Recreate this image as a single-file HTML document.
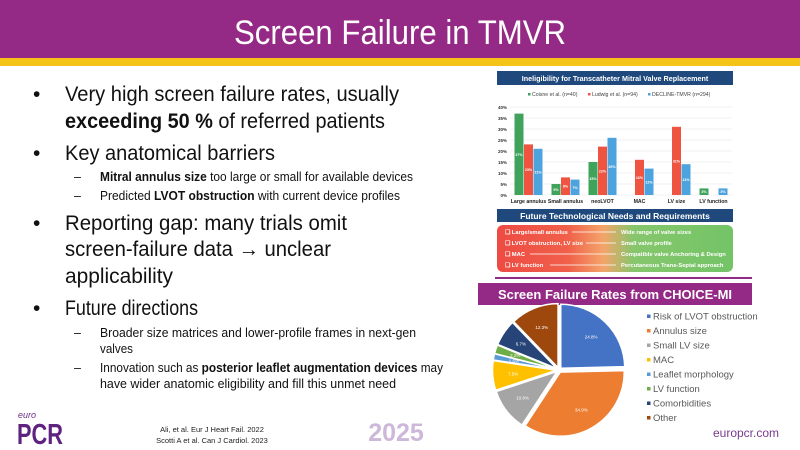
<!DOCTYPE html>
<html><head><meta charset="utf-8">
<style>
html,body{margin:0;padding:0;background:#fff;}
svg{display:block;font-family:"Liberation Sans",sans-serif;}
</style></head>
<body>
<svg id="slide" width="800" height="450" viewBox="0 0 800 450">
  <defs>
    <linearGradient id="fg" x1="0" x2="1" y1="0" y2="0">
      <stop offset="0" stop-color="#EE4B43"/>
      <stop offset="0.3" stop-color="#F0604A"/>
      <stop offset="0.45" stop-color="#F4A46A"/>
      <stop offset="0.58" stop-color="#86C66C"/>
      <stop offset="1" stop-color="#74C467"/>
    </linearGradient>
  </defs>
  <!-- header -->
  <rect x="0" y="0" width="800" height="58" fill="#952A86"/>
  <rect x="0" y="58" width="800" height="8" fill="#F6C418"/>
  <text x="400" y="44" text-anchor="middle" fill="#fff" font-size="34" textLength="332" lengthAdjust="spacingAndGlyphs">Screen Failure in TMVR</text>

  <!-- left bullets -->
  <g fill="#111">
    <g font-size="21">
      <text x="33" y="101">•</text>
      <text x="65" y="101" textLength="334" lengthAdjust="spacingAndGlyphs">Very high screen failure rates, usually</text>
      <text x="65" y="128" textLength="320" lengthAdjust="spacingAndGlyphs"><tspan font-weight="bold">exceeding 50 %</tspan> of referred patients</text>
      <text x="33" y="160">•</text>
      <text x="65" y="160" textLength="210" lengthAdjust="spacingAndGlyphs">Key anatomical barriers</text>
      <text x="33" y="230">•</text>
      <text x="65" y="230" textLength="282" lengthAdjust="spacingAndGlyphs">Reporting gap: many trials omit</text>
      <text x="65" y="256" textLength="266" lengthAdjust="spacingAndGlyphs">screen-failure data → unclear</text>
      <text x="65" y="283" textLength="108" lengthAdjust="spacingAndGlyphs">applicability</text>
      <text x="33" y="315">•</text>
      <text x="65" y="315" textLength="133" lengthAdjust="spacingAndGlyphs">Future directions</text>
    </g>
    <g font-size="12.5">
      <text x="74" y="181">–</text>
      <text x="100" y="181" textLength="313" lengthAdjust="spacingAndGlyphs"><tspan font-weight="bold">Mitral annulus size</tspan> too large or small for available devices</text>
      <text x="74" y="200">–</text>
      <text x="100" y="200" textLength="300" lengthAdjust="spacingAndGlyphs">Predicted <tspan font-weight="bold">LVOT obstruction</tspan> with current device profiles</text>
      <text x="74" y="337">–</text>
      <text x="100" y="337" textLength="316" lengthAdjust="spacingAndGlyphs">Broader size matrices and lower-profile frames in next-gen</text>
      <text x="100" y="353" textLength="33" lengthAdjust="spacingAndGlyphs">valves</text>
      <text x="74" y="372">–</text>
      <text x="100" y="372" textLength="343" lengthAdjust="spacingAndGlyphs">Innovation such as <tspan font-weight="bold">posterior leaflet augmentation devices</tspan> may</text>
      <text x="100" y="388" textLength="296" lengthAdjust="spacingAndGlyphs">have wider anatomic eligibility and fill this unmet need</text>
    </g>
  </g>

  <!-- footer -->
  <text x="18" y="418" font-size="9" font-style="italic" fill="#6B2F86">euro</text>
  <text x="17" y="444" font-size="29" font-weight="bold" fill="#5E2380" textLength="46" lengthAdjust="spacingAndGlyphs">PCR</text>
  <text x="212" y="432" text-anchor="middle" font-size="7.5" fill="#222">Ali, et al. Eur J Heart Fail. 2022</text>
  <text x="212" y="443" text-anchor="middle" font-size="7.5" fill="#222">Scotti A et al. Can J Cardiol. 2023</text>
  <text x="396" y="441" text-anchor="middle" font-size="25" font-weight="bold" fill="#CDB8DA">2025</text>
  <text x="746" y="437" text-anchor="middle" font-size="12" fill="#7A3B8C">europcr.com</text>

  <!-- bar chart panel -->
  <g>
    <rect x="497" y="71" width="236" height="14" fill="#1F497D"/>
    <text x="615" y="81" text-anchor="middle" font-size="7.2" font-weight="bold" fill="#fff">Ineligibility for Transcatheter Mitral Valve Replacement</text>
    <g id="barLegend"></g>
    <g id="bars"></g>
  </g>
  <rect x="497" y="209" width="236" height="13" fill="#1F497D"/>
  <text x="615" y="219" text-anchor="middle" font-size="8.5" font-weight="bold" fill="#fff">Future Technological Needs and Requirements</text>
  <rect x="497" y="225" width="236" height="47" rx="6" fill="url(#fg)"/>
  <g font-size="5.8" font-weight="bold" fill="#fff">
    <text x="505" y="234">❑ Large/small annulus</text><line x1="572" y1="232" x2="616" y2="232" stroke="#fff" stroke-width="0.7"/><text x="621" y="234">Wide range of valve sizes</text>
    <text x="505" y="245">❑ LVOT obstruction, LV size</text><line x1="586" y1="243" x2="616" y2="243" stroke="#fff" stroke-width="0.7"/><text x="621" y="245">Small valve profile</text>
    <text x="505" y="256">❑ MAC</text><line x1="530" y1="254" x2="616" y2="254" stroke="#fff" stroke-width="0.7"/><text x="621" y="256">Compatible valve Anchoring &amp; Design</text>
    <text x="505" y="267">❑ LV function</text><line x1="550" y1="265" x2="616" y2="265" stroke="#fff" stroke-width="0.7"/><text x="621" y="267">Percutaneous Trans-Septal approach</text>
  </g>
  <rect x="495" y="277" width="257" height="2" fill="#952A86"/>

  <!-- pie chart panel -->
  <rect x="478" y="283" width="274" height="22" fill="#952A86"/>
  <text x="615" y="299" text-anchor="middle" font-size="13" font-weight="bold" fill="#fff">Screen Failure Rates from CHOICE-MI</text>
  <g id="pie"></g>
  <g id="pieLegend"></g>
</svg>
<script>
const barCategories = ["Large annulus","Small annulus","neoLVOT","MAC","LV size","LV function"];
const seriesNames = ["Coisne et al. (n=40)","Ludwig et al. (n=94)","DECLINE-TMVR (n=294)"];
const coisne = [37,5,15,null,null,3];
const ludwig = [23,8,22,16,31,null];
const decline = [21,7,26,12,14,3];
const yTicks = [0,5,10,15,20,25,30,35,40];
const seriesColors = ["#3FA35B","#EE5440","#4DA3DD"];

const pieLabels = ["Risk of LVOT obstruction","Annulus size","Small LV size","MAC","Leaflet morphology","LV function","Comorbidities","Other"];
const pieValues = [24.8,34.9,10.8,7.5,1.6,2.2,6.7,12.3];
const pieColors = ["#4472C4","#ED7D31","#A5A5A5","#FFC000","#5B9BD5","#70AD47","#264478","#9E480E"];

const NS="http://www.w3.org/2000/svg";
function mk(tag, attrs, parent){const e=document.createElementNS(NS,tag);for(const k in attrs)e.setAttribute(k,attrs[k]);parent.appendChild(e);return e;}

// bar chart
const y0=195, yTop=107, x0=510, x1=732;
const yS=v=>y0-(v/40)*(y0-yTop);
const groupW=(x1-x0)/barCategories.length;
const xC=i=>x0+groupW*(i+0.5);
const bars=document.getElementById('bars');
yTicks.forEach(t=>{
  const l=mk('line',{x1:x0,x2:x1,y1:yS(t),y2:yS(t),stroke:'#e2e2e2','stroke-width':0.5},bars);
  
  
  const tx=mk('text',{x:507,y:yS(t)+1.8,'text-anchor':'end','font-size':4.5,'font-weight':'bold',fill:'#333'},bars);
  tx.textContent=t+'%';
  
  
});
const series=[coisne,ludwig,decline];
const bw=9;
series.forEach((s,si)=>{
  s.forEach((v,i)=>{
    if(v===null)return;
    const cx=xC(i)+(si-1)*9.5;
    const r=mk('rect',{x:cx-bw/2,y:yS(v),width:bw,height:y0-yS(v),fill:seriesColors[si]},bars);
    
    
    const t=mk('text',{x:cx,y:(yS(v)+y0)/2+1.5,'text-anchor':'middle','font-size':3.6,'font-weight':'bold',fill:'#fff'},bars);
    t.textContent=v+'%';
    
    
  });
});
barCategories.forEach((c,i)=>{
  const t=mk('text',{x:xC(i),y:203,'text-anchor':'middle','font-size':5.2,'font-weight':'bold',fill:'#222'},bars);
  t.textContent=c;
  
  
});
const lg=document.getElementById('barLegend');
const lx=[528,588,648];
seriesNames.forEach((n,i)=>{
  const r=mk('rect',{x:lx[i],y:93,width:2.5,height:2.5,fill:seriesColors[i]},lg);
  
  
  const t=mk('text',{x:lx[i]+4,y:96,'font-size':5.2,fill:'#444'},lg);
  t.textContent=n;
  
  
});

// pie chart
const pie=document.getElementById('pie');
const cx=559, cy=370, R=64;
const total=pieValues.reduce((a,b)=>a+b,0);
let ang=-Math.PI/2;
pieValues.forEach((v,i)=>{
  const a=v/total*2*Math.PI, mid=ang+a/2;
  const ox=Math.cos(mid)*2.5, oy=Math.sin(mid)*2.5;
  const p1=[cx+ox+R*Math.cos(ang),cy+oy+R*Math.sin(ang)];
  const p2=[cx+ox+R*Math.cos(ang+a),cy+oy+R*Math.sin(ang+a)];
  const d=`M${cx+ox},${cy+oy} L${p1[0]},${p1[1]} A${R},${R} 0 ${a>Math.PI?1:0} 1 ${p2[0]},${p2[1]} Z`;
  const s=mk('path',{d,fill:pieColors[i],stroke:'#fff','stroke-width':1.5},pie);
  
  
  const t=mk('text',{x:cx+ox+R*0.68*Math.cos(mid),y:cy+oy+R*0.68*Math.sin(mid)+1.5,'text-anchor':'middle','font-size':4.5,fill:'#fff'},pie);
  t.textContent=v.toFixed(1)+'%';
  
  
  ang+=a;
});
const pl=document.getElementById('pieLegend');
pieLabels.forEach((n,i)=>{
  const y=318+i*14.5;
  const r=mk('rect',{x:647,y:y-3.5,width:3.5,height:3.5,fill:pieColors[i]},pl);
  
  
  const t=mk('text',{x:653,y:y+1.5,'font-size':9.5,fill:'#595959'},pl);
  t.textContent=n;
  
  
});
</script>
</body></html>
